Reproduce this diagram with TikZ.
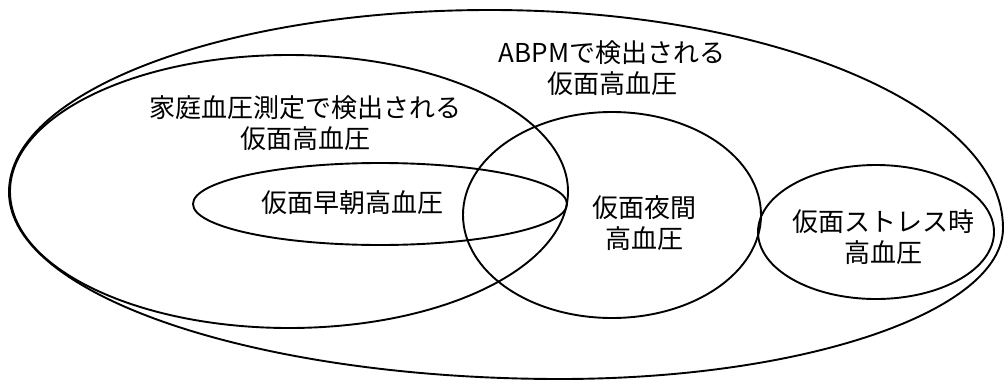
\documentclass[tikz,border=0pt]{standalone}
\usepackage{fontspec}
\setmainfont{Noto Sans CJK JP}
\usetikzlibrary{shapes.geometric}
\tikzset{
  outline/.style={draw=black, line width=1.9pt},
  venn/.style={ellipse, outline, inner sep=0pt, outer sep=0pt},
  lbl/.style={align=center, font=\fontsize{26pt}{30.5pt}\selectfont, inner sep=0pt}
}
\begin{document}
\begin{tikzpicture}[x=1pt, y=-1pt]
\useasboundingbox (0,0) rectangle (1004,383);
% outer region (ABPM), slightly egg-shaped: four quarter arcs
\coordinate (outerleft) at (9,192);
\draw[outline] (outerleft)
  arc[start angle=180, end angle=90, x radius=481pt, y radius=182pt]
  arc[start angle=90, end angle=0, x radius=513pt, y radius=218pt]
  arc[start angle=0, end angle=-90, x radius=443pt, y radius=151pt]
  arc[start angle=270, end angle=180, x radius=551pt, y radius=187pt]
  -- cycle;
% inner regions
\node[venn, minimum width=558pt, minimum height=273pt] (home) at (289,191.5) {};
\node[venn, minimum width=374pt, minimum height=82pt] (morning) at (380,204) {};
\node[venn, minimum width=298pt, minimum height=206pt] (night) at (612,215) {};
\node[venn, minimum width=236pt, minimum height=134pt] (stress) at (876,232) {};
% labels
\node[lbl] (abpmlbl) at (612,68) {ABPMで検出される\\仮面高血圧};
\node[lbl] (homelbl) at (305,123) {家庭血圧測定で検出される\\仮面高血圧};
\node[lbl] (morninglbl) at (352,203) {仮面早朝高血圧};
\node[lbl] (nightlbl) at (644,223) {仮面夜間\\高血圧};
\node[lbl] (stresslbl) at (883,237) {仮面ストレス時\\高血圧};
\end{tikzpicture}
\end{document}
